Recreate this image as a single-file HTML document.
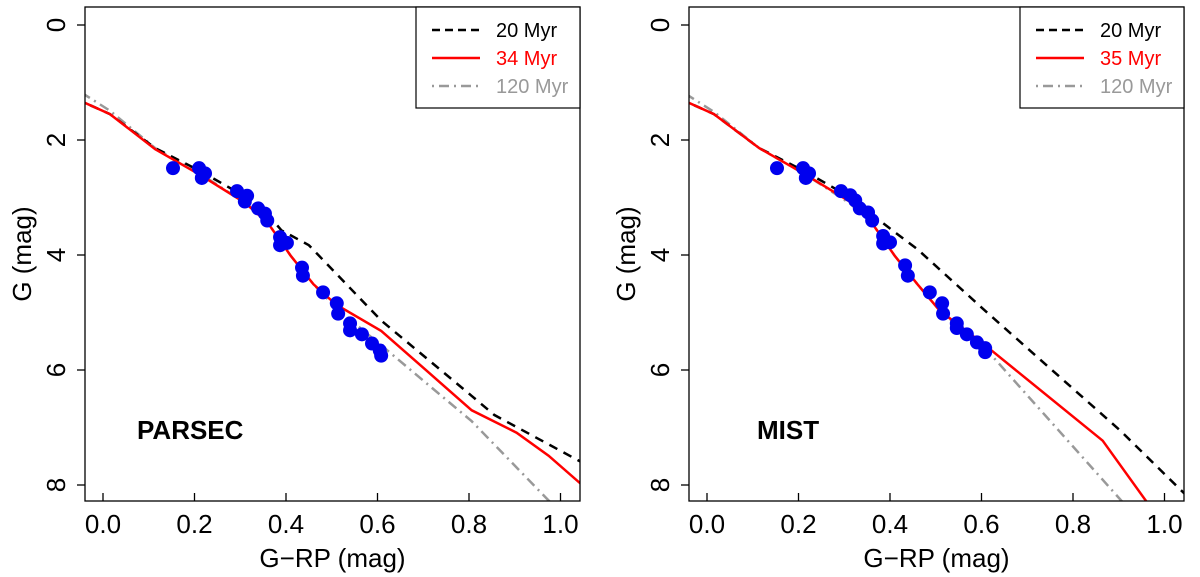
<!DOCTYPE html>
<html><head><meta charset="utf-8"><style>
body{margin:0;background:#fff;font-family:"Liberation Sans",Arial,sans-serif}
svg{display:block}
</style></head><body>
<svg id="c" width="1200" height="577" xmlns="http://www.w3.org/2000/svg"></svg>
<script>
const xTicks=[0.0,0.2,0.4,0.6,0.8,1.0];
const xTickLabels=["0.0","0.2","0.4","0.6","0.8","1.0"];
const yTicks=[0,2,4,6,8];
const yTickLabels=["0","2","4","6","8"];
const starsLeftX=[0.153,0.210,0.223,0.216,0.293,0.315,0.310,0.339,0.354,0.359,0.387,0.387,0.402,0.435,0.437,0.481,0.511,0.514,0.540,0.540,0.566,0.588,0.605,0.608];
const starsLeftY=[2.49,2.49,2.58,2.66,2.89,2.97,3.07,3.19,3.28,3.40,3.69,3.83,3.79,4.22,4.36,4.65,4.84,5.02,5.19,5.31,5.38,5.54,5.66,5.75];
const starsRightX=[0.153,0.210,0.223,0.216,0.293,0.313,0.324,0.334,0.352,0.361,0.385,0.385,0.400,0.433,0.439,0.487,0.514,0.516,0.546,0.546,0.568,0.590,0.608,0.608];
const starsRightY=[2.49,2.49,2.58,2.66,2.89,2.96,3.05,3.19,3.26,3.40,3.67,3.80,3.78,4.18,4.36,4.65,4.84,5.02,5.19,5.27,5.38,5.52,5.62,5.69];
const isoX=[-0.06,0.015,0.114,0.213,0.312,0.361,0.41,0.46,0.509,0.608,0.707,0.806,0.904,0.974,1.05];
const pRedY=[1.28,1.55,2.16,2.61,3.10,3.45,4.01,4.51,4.86,5.32,6.01,6.70,7.09,7.49,8.02];
const pBlackX=[-0.06,0.015,0.114,0.213,0.312,0.361,0.39,0.45,0.608,0.806,0.855,1.05];
const pBlackY=[1.28,1.55,2.14,2.54,2.99,3.30,3.57,3.83,5.14,6.45,6.78,7.62];
const pGrayX=[-0.06,0.015,0.114,0.213,0.312,0.361,0.41,0.46,0.509,0.608,0.806,0.99];
const pGrayY=[1.11,1.49,2.14,2.59,3.10,3.45,4.01,4.51,4.92,5.57,6.89,8.4];
const mRedX=[-0.06,0.015,0.114,0.213,0.312,0.361,0.41,0.46,0.509,0.608,0.865,0.98];
const mRedY=[1.28,1.55,2.14,2.59,3.07,3.45,4.01,4.51,4.97,5.57,7.23,8.5];
const mBlackX=[-0.06,0.015,0.114,0.213,0.312,0.361,0.41,0.46,0.608,0.904,1.05];
const mBlackY=[1.28,1.55,2.14,2.54,2.99,3.30,3.60,3.90,4.97,7.06,8.2];
const mGrayX=[-0.06,0.015,0.114,0.213,0.312,0.361,0.41,0.46,0.509,0.608,0.92];
const mGrayY=[1.13,1.51,2.14,2.59,3.10,3.45,4.01,4.51,4.97,5.62,8.4];

const NS="http://www.w3.org/2000/svg";
const svg=document.getElementById('c');
function el(t,a,p){const e=document.createElementNS(NS,t);for(const k in a)e.setAttribute(k,a[k]);(p||svg).appendChild(e);return e;}

function panel(px0,name,label,labelX,redLab,series,stars){
  const L=px0+85,R=px0+580,T=7,B=501;
  const sx=v=>px0+103+v*457.5, sy=v=>25+v*57.5;
  const g=el('g',{});
  
  
  const clipId='clip'+px0;
  const cp=el('clipPath',{id:clipId},g);el('rect',{x:L,y:T,width:R-L,height:B-T},cp);
  const plot=el('g',{'clip-path':'url(#'+clipId+')'},g);
  series.forEach(s=>{
    const d=s.x.map((v,i)=>(i?'L':'M')+sx(v).toFixed(1)+','+sy(s.y[i]).toFixed(1)).join('');
    const p=el('path',{d:d,fill:'none',stroke:s.c,'stroke-width':s.w,'stroke-dasharray':s.dash||'none'},plot);
    
    
  });
  stars[0].forEach((v,i)=>{
    const c=el('circle',{cx:sx(v),cy:sy(stars[1][i]),r:7,fill:'#0000ee'},plot);
    
    
  });
  const fr=el('rect',{x:L,y:T,width:R-L,height:B-T,fill:'none',stroke:'#000','stroke-width':1.3},g);
  
  
  xTicks.forEach((v,i)=>{
    el('line',{x1:sx(v),x2:sx(v),y1:B,y2:B-8,stroke:'#000','stroke-width':1.3},g);
    const t=el('text',{x:sx(v),y:533,'font-size':26,'text-anchor':'middle'},g);t.textContent=xTickLabels[i];
    
    
  });
  yTicks.forEach((v,i)=>{
    el('line',{x1:L,x2:L-8,y1:sy(v),y2:sy(v),stroke:'#000','stroke-width':1.3},g);
    const tx=px0+65;
    const t=el('text',{x:tx,y:sy(v),'font-size':26,'text-anchor':'middle',transform:`rotate(-90 ${tx} ${sy(v)})`},g);t.textContent=yTickLabels[i];
    
    
  });
  const xt=el('text',{x:(L+R)/2,y:567,'font-size':26,'text-anchor':'middle'},g);xt.textContent='G\u2212RP (mag)';
  
  
  const yx=px0+31,yy=254;
  const yt=el('text',{x:yx,y:yy,'font-size':26,'text-anchor':'middle',transform:`rotate(-90 ${yx} ${yy})`},g);yt.textContent='G (mag)';
  
  
  const ml=el('text',{x:px0+labelX,y:439,'font-size':26,'font-weight':'bold'},g);ml.textContent=label;
  
  
  const lg=el('g',{},g);
  
  
  const lx=px0+416;
  el('rect',{x:lx,y:T,width:R-lx,height:101,fill:'#fff',stroke:'#000','stroke-width':1.2},lg);
  const ents=[['20 Myr','#000','8,5',2.5],[redLab,'#ff0000','none',2.5],['120 Myr','#999','2,5,10,5',2.5]];
  ents.forEach((e,i)=>{
    const y=T+23+i*28;
    el('line',{x1:lx+16,x2:lx+64,y1:y,y2:y,stroke:e[1],'stroke-width':e[3],'stroke-dasharray':e[2]},lg);
    const t=el('text',{x:lx+80,y:y+7,'font-size':20,fill:e[1]},lg);t.textContent=e[0];
    
    
  });
}
panel(0,'parsec-panel','PARSEC',137,'34 Myr',[
  {n:'iso-120myr',x:pGrayX,y:pGrayY,c:'#999',w:2.5,dash:'2,5,10,5'},
  {n:'iso-20myr',x:pBlackX,y:pBlackY,c:'#000',w:2.5,dash:'9,7'},
  {n:'iso-34myr',x:isoX,y:pRedY,c:'#ff0000',w:2.5}
],[starsLeftX,starsLeftY]);
panel(604,'mist-panel','MIST',153,'35 Myr',[
  {n:'iso-120myr',x:mGrayX,y:mGrayY,c:'#999',w:2.5,dash:'2,5,10,5'},
  {n:'iso-20myr',x:mBlackX,y:mBlackY,c:'#000',w:2.5,dash:'9,7'},
  {n:'iso-35myr',x:mRedX,y:mRedY,c:'#ff0000',w:2.5}
],[starsRightX,starsRightY]);
</script>
</body></html>
